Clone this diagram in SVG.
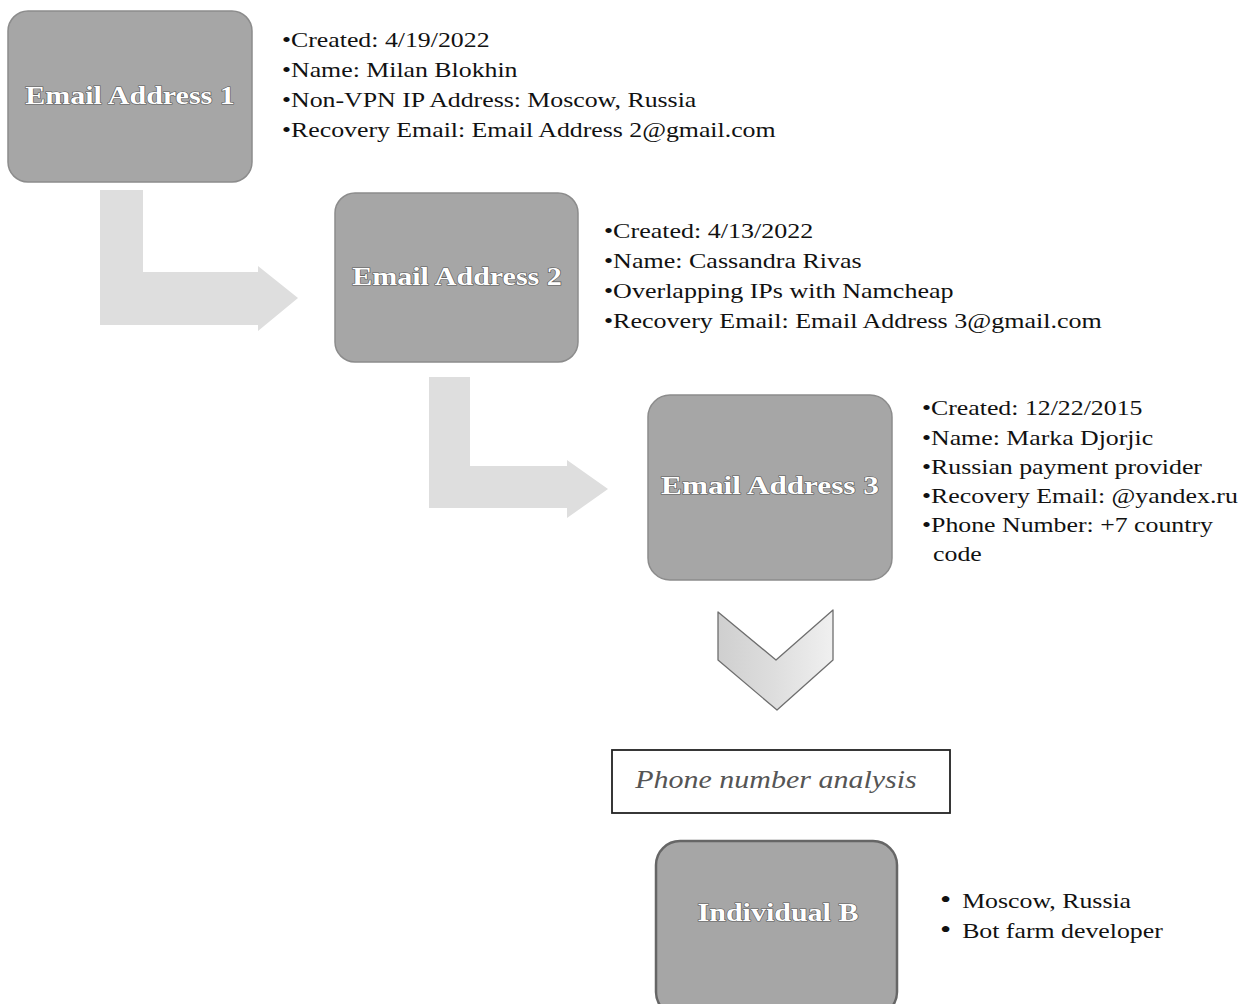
<svg xmlns="http://www.w3.org/2000/svg" width="1243" height="1004" viewBox="0 0 1243 1004">
<defs>
<linearGradient id="chev" x1="0" y1="0" x2="1" y2="0">
<stop offset="0" stop-color="#cfcfcf"/>
<stop offset="0.5" stop-color="#dedede"/>
<stop offset="1" stop-color="#f0f0f0"/>
</linearGradient>
</defs>
<style>
.box{fill:#a6a6a6;stroke:#8c8c8c;stroke-width:1.5}
.boxB{fill:#a6a6a6;stroke:#666;stroke-width:2.5}
.lbl{font-family:"Liberation Serif","Times New Roman",serif;font-weight:bold;font-size:25px;fill:#fff;stroke:#5a5a5a;stroke-width:1.2;paint-order:stroke;text-anchor:middle}
.txt{font-family:"Liberation Serif","Times New Roman",serif;font-size:21px;fill:#111}
.conn{fill:#dedede;stroke:none}
.chev{fill:url(#chev);stroke:#6e6e6e;stroke-width:1.3;stroke-linejoin:round}
.note{fill:#fff;stroke:#222;stroke-width:1.8}
.ital{font-family:"Liberation Serif","Times New Roman",serif;font-style:italic;font-size:25px;fill:#555;text-anchor:middle}
</style>
<rect width="1243" height="1004" fill="#fff"/>

<g id="connectors">
<path class="conn" d="M100,190 H143 V272 H258 V266 L298,298 L258,331 V325 H100 Z"/>
<path class="conn" d="M429,377 H470 V466 H567 V460 L608,489 L567,518 V508 H429 Z"/>
<path class="chev" d="M718,612 L776,660 L833,610 L833,660 L777,710 L718,660 Z"/>
</g>

<g id="node-email1">
<rect class="box" x="8" y="11" width="244" height="171" rx="20"/>
<g transform="translate(130,104) scale(1.2,1)"><text class="lbl" x="0" y="0">Email Address 1</text></g>
<g transform="translate(282,0) scale(1.23,1)">
<text class="txt" x="0" y="47">•Created: 4/19/2022</text>
<text class="txt" x="0" y="77">•Name: Milan Blokhin</text>
<text class="txt" x="0" y="107">•Non-VPN IP Address: Moscow, Russia</text>
<text class="txt" x="0" y="137">•Recovery Email: Email Address 2@gmail.com</text>
</g>
</g>

<g id="node-email2">
<rect class="box" x="335" y="193" width="243" height="169" rx="20"/>
<g transform="translate(457,285) scale(1.2,1)"><text class="lbl" x="0" y="0">Email Address 2</text></g>
<g transform="translate(604,0) scale(1.24,1)">
<text class="txt" x="0" y="238">•Created: 4/13/2022</text>
<text class="txt" x="0" y="268">•Name: Cassandra Rivas</text>
<text class="txt" x="0" y="298">•Overlapping IPs with Namcheap</text>
<text class="txt" x="0" y="328">•Recovery Email: Email Address 3@gmail.com</text>
</g>
</g>

<g id="node-email3">
<rect class="box" x="648" y="395" width="244" height="185" rx="22"/>
<g transform="translate(770,494) scale(1.2,1)"><text class="lbl" x="0" y="0" style="font-size:26px">Email Address 3</text></g>
<g transform="translate(922,0) scale(1.23,1)">
<text class="txt" x="0" y="415">•Created: 12/22/2015</text>
<text class="txt" x="0" y="445">•Name: Marka Djorjic</text>
<text class="txt" x="0" y="474">•Russian payment provider</text>
<text class="txt" x="0" y="503">•Recovery Email: @yandex.ru</text>
<text class="txt" x="0" y="532">•Phone Number: +7 country</text>
<text class="txt" x="9" y="561">code</text>
</g>
</g>

<g id="node-phone-analysis">
<rect class="note" x="612" y="750" width="338" height="63"/>
<g transform="translate(776,788) scale(1.2,1)"><text class="ital" x="0" y="0">Phone number analysis</text></g>
</g>

<g id="node-individualB">
<rect class="boxB" x="656" y="841" width="241" height="175" rx="24"/>
<g transform="translate(778,921) scale(1.2,1)"><text class="lbl" x="0" y="0">Individual B</text></g>
<g transform="translate(940,0) scale(1.23,1)">
<text class="txt" x="0" y="908" style="font-size:26px">•</text>
<text class="txt" x="18" y="908">Moscow, Russia</text>
<text class="txt" x="0" y="938" style="font-size:26px">•</text>
<text class="txt" x="18" y="938">Bot farm developer</text>
</g>
</g>
</svg>
